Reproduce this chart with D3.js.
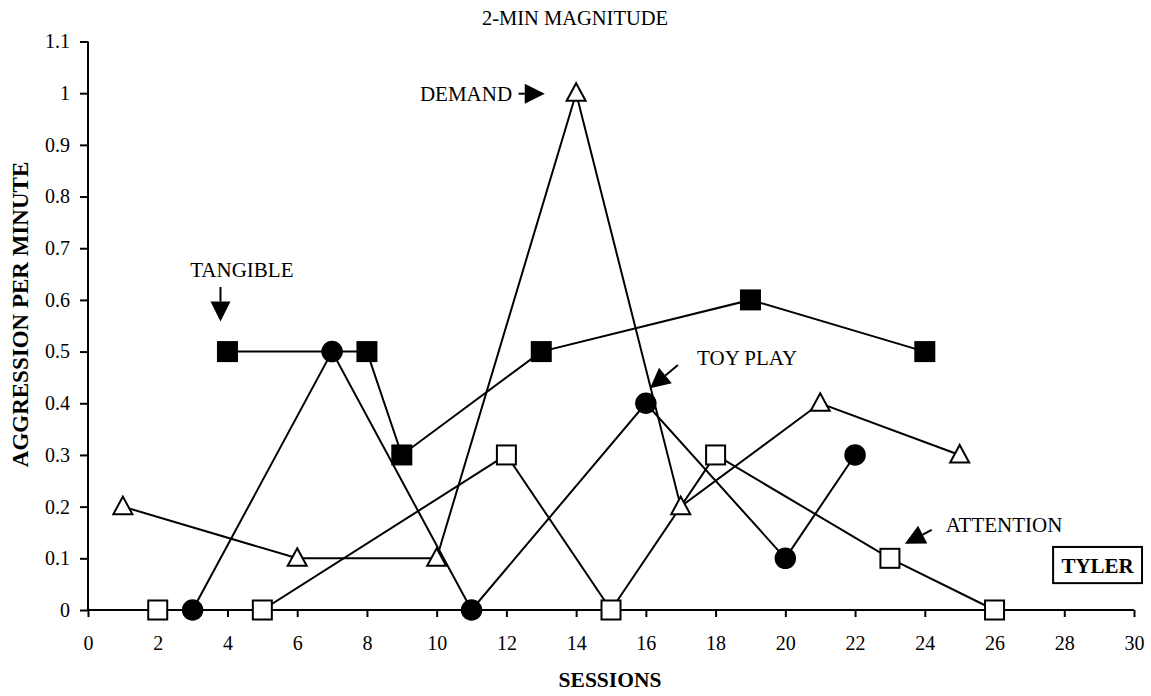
<!DOCTYPE html>
<html>
<head>
<meta charset="utf-8">
<script src="https://cdn.jsdelivr.net/npm/d3@7"></script>
<style>
  body { margin: 0; background: #fff; }
  text { font-family: "Liberation Serif", "Times New Roman", serif; fill: #000; }
</style>
</head>
<body>
<svg id="chart"></svg>
<script>
// sessions and rates
let tangibleX  = [4, 8, 9, 13, 19, 24];
let tangibleY  = [0.5, 0.5, 0.3, 0.5, 0.6, 0.5];
let toyPlayX   = [3, 7, 11, 16, 20, 22];
let toyPlayY   = [0, 0.5, 0, 0.4, 0.1, 0.3];
let demandX    = [1, 6, 10, 14, 17, 21, 25];
let demandY    = [0.2, 0.1, 0.1, 1, 0.2, 0.4, 0.3];
let attentionX = [2, 5, 12, 15, 18, 23, 26];
let attentionY = [0, 0, 0.3, 0, 0.3, 0.1, 0];

let xTicks = d3.range(0, 31, 2);
let yTicks = [0, 0.1, 0.2, 0.3, 0.4, 0.5, 0.6, 0.7, 0.8, 0.9, 1, 1.1];

const width = 1151;
const height = 696;

let margin = { top: 41.5, right: 17, bottom: 86, left: 88 };
let plotWidth = width - margin.left - margin.right;
let plotHeight = height - margin.top - margin.bottom;

let svg = d3.select("svg#chart").attr("width", width).attr("height", height);

let x = d3.scaleLinear().domain([0, 30]).range([0, plotWidth]);
let y = d3.scaleLinear().domain([0, 1.1]).range([plotHeight, 0]);

let plot = svg.append("g").attr("transform", "translate(" + margin.left + "," + margin.top + ")");

// axes
let xAxis = d3.axisBottom(x).tickValues(xTicks).tickSize(7).tickPadding(19).tickFormat(d3.format("d"));
let yAxis = d3.axisLeft(y).tickValues(yTicks).tickSize(8).tickPadding(10).tickFormat(d => d3.format("")(+d.toFixed(1)));

let xGroup = plot.append("g").attr("transform", "translate(0," + plotHeight + ")").call(xAxis);
let yGroup = plot.append("g").call(yAxis);

[xGroup, yGroup].forEach(g => {
  g.attr("font-size", 20).attr("font-family", "Liberation Serif");
  g.select(".domain").attr("stroke", "#000").attr("stroke-width", 2);
  g.selectAll(".tick line").attr("stroke", "#000").attr("stroke-width", 2);
  g.selectAll(".tick text").style("font-size", "20px").attr("fill", "#000");
});
xGroup.select(".domain").attr("d", "M0,0H" + plotWidth);
yGroup.select(".domain").attr("d", "M0,0V" + plotHeight);

// titles
svg.append("text")
  .attr("x", 575).attr("y", 25)
  .attr("text-anchor", "middle").style("font-size", "20.5px")
  .text("2-MIN MAGNITUDE");

svg.append("text")
  .attr("x", 610).attr("y", 687)
  .attr("text-anchor", "middle").style("font-size", "21.5px").attr("font-weight", "bold")
  .text("SESSIONS");

svg.append("text")
  .attr("transform", "translate(28,314.5) rotate(-90)")
  .attr("text-anchor", "middle").style("font-size", "23px").attr("font-weight", "bold")
  .text("AGGRESSION PER MINUTE");

// series
let series = [
  { name: "attention", xs: attentionX, ys: attentionY, shape: "square", fill: "#fff" },
  { name: "demand",    xs: demandX,    ys: demandY,    shape: "triangle", fill: "#fff" },
  { name: "toyplay",   xs: toyPlayX,   ys: toyPlayY,   shape: "circle", fill: "#000" },
  { name: "tangible",  xs: tangibleX,  ys: tangibleY,  shape: "square", fill: "#000" }
];

let line = d3.line().x(d => x(d[0])).y(d => y(d[1]));

series.forEach(s => {
  let pts = s.xs.map((v, i) => [v, s.ys[i]]);
  let g = plot.append("g").attr("class", s.name);

  g.append("path")
    .datum(pts)
    .attr("fill", "none")
    .attr("stroke", "#000")
    .attr("stroke-width", 2)
    .attr("d", line);

  let marks = g.selectAll(".mark").data(pts).enter();
  if (s.shape == "square") {
    marks.append("rect")
      .attr("x", d => x(d[0]) - 9.5).attr("y", d => y(d[1]) - 9.5)
      .attr("width", 19).attr("height", 19)
      .attr("fill", s.fill).attr("stroke", "#000").attr("stroke-width", 2);
  } else if (s.shape == "circle") {
    marks.append("circle")
      .attr("cx", d => x(d[0])).attr("cy", d => y(d[1])).attr("r", 10)
      .attr("fill", s.fill).attr("stroke", "#000").attr("stroke-width", 1.5);
  } else {
    marks.append("path")
      .attr("d", d => {
        let cx = x(d[0]), cy = y(d[1]);
        return "M" + cx + "," + (cy - 10) + "L" + (cx + 9.5) + "," + (cy + 7.5) + "L" + (cx - 9.5) + "," + (cy + 7.5) + "Z";
      })
      .attr("fill", s.fill).attr("stroke", "#000").attr("stroke-width", 2);
  }
});

// annotations (placed in data units)
function arrow(x1, y1, x2, y2) {
  let px1 = x(x1), py1 = y(y1), px2 = x(x2), py2 = y(y2);
  let ang = Math.atan2(py2 - py1, px2 - px1);
  let headLen = 20, headW = 10;
  let bx = px2 - headLen * Math.cos(ang), by = py2 - headLen * Math.sin(ang);
  plot.append("line")
    .attr("x1", px1).attr("y1", py1).attr("x2", bx).attr("y2", by)
    .attr("stroke", "#000").attr("stroke-width", 2);
  let nx = -Math.sin(ang) * headW, ny = Math.cos(ang) * headW;
  plot.append("path")
    .attr("d", "M" + px2 + "," + py2 + "L" + (bx + nx) + "," + (by + ny) + "L" + (bx - nx) + "," + (by - ny) + "Z")
    .attr("fill", "#000");
}

function label(tx, ty, str) {
  plot.append("text")
    .attr("x", x(tx)).attr("y", y(ty))
    .style("font-size", "21px")
    .text(str);
}

label(9.52, 0.985, "DEMAND");
arrow(12.35, 0.999, 13.1, 0.999);

label(2.93, 0.644, "TANGIBLE");
arrow(3.8, 0.625, 3.8, 0.558);

label(17.47, 0.474, "TOY PLAY");
arrow(16.92, 0.474, 16.12, 0.429);

label(24.6, 0.151, "ATTENTION");
arrow(24.2, 0.155, 23.43, 0.128);

// name box
plot.append("rect")
  .attr("x", x(27.68)).attr("y", y(0.122))
  .attr("width", x(30.23) - x(27.68)).attr("height", y(0.052) - y(0.122))
  .attr("fill", "#fff").attr("stroke", "#000").attr("stroke-width", 2);
plot.append("text")
  .attr("x", (x(27.68) + x(30.23)) / 2).attr("y", y(0.087) + 7.5)
  .attr("text-anchor", "middle").style("font-size", "21px").attr("font-weight", "bold")
  .text("TYLER");
</script>
</body>
</html>
